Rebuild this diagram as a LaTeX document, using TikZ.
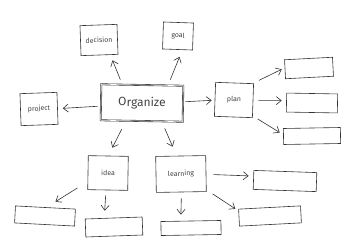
\documentclass[tikz,border=0pt]{standalone}
\usepackage{fontspec}
\setmainfont{Fira Sans}
\usetikzlibrary{arrows.meta}
\definecolor{ink}{HTML}{333333}
\definecolor{txt}{HTML}{444444}
\begin{document}
\begin{tikzpicture}[x=1pt,y=-1pt,
  box/.style={draw=ink,line width=0.6pt,rectangle,inner sep=0pt,text=txt,font=\fontsize{7}{8}\selectfont},
  arr/.style={draw=ink,line width=0.6pt,-{Straight Barb[length=5pt,width=8pt]}}]
\useasboundingbox (0,0) rectangle (350,246);
% main
\node[box,minimum width=82pt,minimum height=36pt,double,double distance=0.6pt,font=\fontsize{12}{14}\selectfont,rotate=-1] (org) at (142,103) {Organize};
\node[box,minimum width=37pt,minimum height=30pt,rotate=2] (decision) at (99,40) {decision};
\node[box,minimum width=30pt,minimum height=27pt,rotate=-2] (goal) at (178,36) {goal};
\node[box,minimum width=37pt,minimum height=32pt,rotate=2] (project) at (39,109) {project};
\node[box,minimum width=38pt,minimum height=34pt,rotate=-2] (plan) at (234,100) {plan};
\node[box,minimum width=40pt,minimum height=34pt,rotate=-1] (idea) at (108,173) {idea};
\node[box,minimum width=50pt,minimum height=36pt,rotate=1] (learning) at (181,174) {learning};
% empty boxes
\node[box,minimum width=48pt,minimum height=19pt,rotate=3] (r1) at (309,68) {};
\node[box,minimum width=51pt,minimum height=19pt,rotate=-1] (r2) at (312,103) {};
\node[box,minimum width=57pt,minimum height=16pt,rotate=1] (r3) at (312,136) {};
\node[box,minimum width=60pt,minimum height=17pt,rotate=-3] (b1) at (45,216) {};
\node[box,minimum width=57pt,minimum height=18pt,rotate=2] (b2) at (114,227) {};
\node[box,minimum width=60pt,minimum height=14pt,rotate=1] (b3) at (191,228) {};
\node[box,minimum width=63pt,minimum height=19pt,rotate=-2] (l1) at (285,181) {};
\node[box,minimum width=62pt,minimum height=17pt,rotate=3] (l2) at (270,216) {};
% arrows
\draw[arr] ([xshift=-22pt,yshift=5pt]org.north) -- ([xshift=13pt,yshift=-5pt]decision.south);
\draw[arr] ([xshift=28pt,yshift=5pt]org.north) -- ([xshift=2pt,yshift=-7pt]goal.south);
\draw[arr] ([xshift=-3pt,yshift=-4pt]org.west) -- ([xshift=5pt]project.east);
\draw[arr] ([xshift=2pt,yshift=2pt]org.east) -- ([xshift=-3pt,yshift=-1pt]plan.west);
\draw[arr] ([xshift=5pt,yshift=3pt]plan.north east) -- ([xshift=-3pt]r1.west);
\draw[arr] ([xshift=5pt]plan.east) -- ([xshift=-4.5pt,yshift=2pt]r2.west);
\draw[arr] ([xshift=5pt,yshift=-1pt]plan.south east) -- ([xshift=-3.5pt,yshift=4pt]r3.west);
\draw[arr] ([xshift=-20pt,yshift=-8pt]org.south) -- ([xshift=4pt,yshift=8pt]idea.north);
\draw[arr] ([xshift=23pt,yshift=-7pt]org.south) -- ([xshift=-8pt,yshift=9pt]learning.north);
\draw[arr] ([xshift=-10pt,yshift=2pt]idea.south west) -- ([xshift=10pt,yshift=5.5pt]b1.north);
\draw[arr] ([xshift=-2pt,yshift=-5pt]idea.south) -- ([xshift=-9pt,yshift=7pt]b2.north);
\draw[arr] ([yshift=-6pt]learning.south) -- ([xshift=-10pt,yshift=6pt]b3.north);
\draw[arr] ([xshift=7pt,yshift=-1pt]learning.east) -- ([xshift=-4.5pt,yshift=4pt]l1.west);
\draw[arr] ([xshift=6pt,yshift=-2pt]learning.south east) -- ([xshift=-3pt]l2.north west);
\end{tikzpicture}
\end{document}
